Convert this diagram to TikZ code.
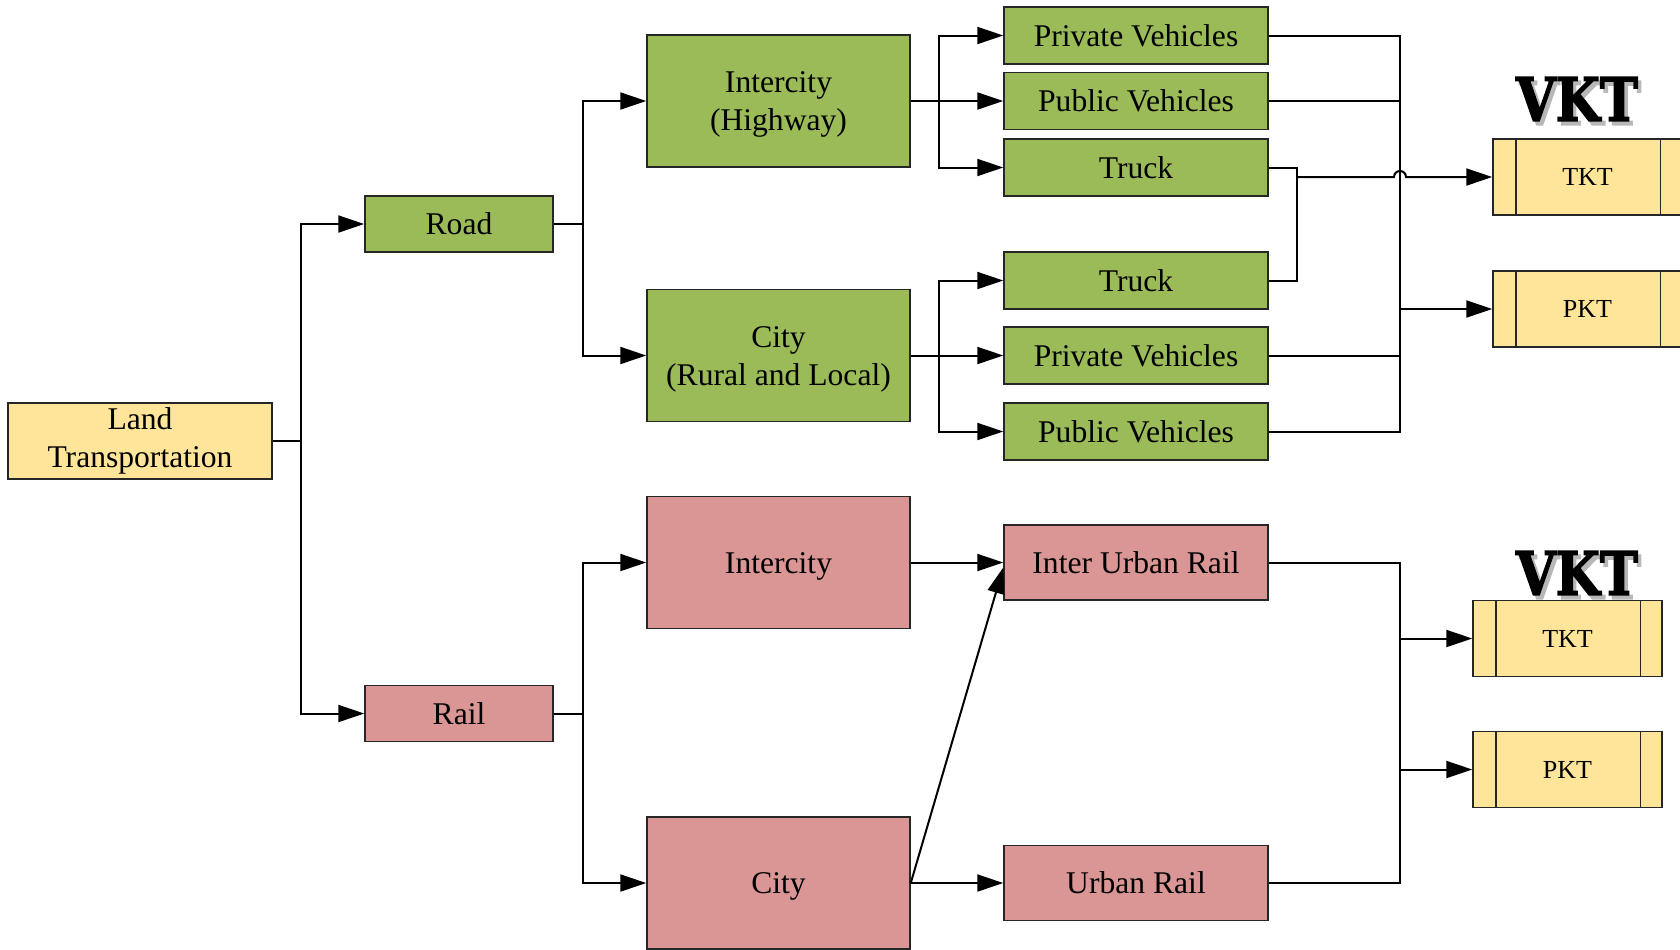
\documentclass[tikz,border=0pt]{standalone}
\usepackage{fontspec}
\setmainfont{Liberation Serif}
\newfontfamily\vktfont[BoldFeatures={FakeBold=2.5}]{DejaVu Serif}
\usetikzlibrary{arrows.meta,calc}
\definecolor{gfill}{HTML}{9BBB59}
\definecolor{rfill}{HTML}{D99694}
\definecolor{yfill}{HTML}{FFE599}
\newcommand{\vktshadow}[1]{\makebox[0pt][l]{\hspace{2pt}\raisebox{-2pt}{\color{black!28}#1}}#1}
\newcommand{\upstrut}{\rule{0pt}{14pt}}
\begin{document}
\begin{tikzpicture}[x=0.5pt,y=-0.5pt,
  base/.style={draw=black!85, line width=0.75pt, inner sep=0pt, align=center, font=\fontsize{15.8}{19}\selectfont},
  gbox/.style={base, fill=gfill},
  rbox/.style={base, fill=rfill},
  ybox/.style={base, fill=yfill},
  small/.style={base, fill=gfill, minimum width=132pt, minimum height=28.5pt},
  mid/.style={minimum width=131.5pt, minimum height=66pt},
  kt/.style={base, fill=yfill, minimum width=94.5pt, minimum height=38pt, font=\fontsize{13}{15}\selectfont},
  conn/.style={line width=1pt},
  arr/.style={conn, -{Triangle[length=13pt,width=8.5pt]}},
  vkt/.style={font=\vktfont\bfseries\fontsize{30}{30}\selectfont, inner sep=0pt},
]
\useasboundingbox (0,0) rectangle (1680,949);

% nodes
\node[ybox, minimum width=132pt, minimum height=38pt] (land) at (140,441) {Land\\Transportation};
\node[gbox, minimum width=94pt, minimum height=28pt] (road) at (459,224) {Road};
\node[rbox, minimum width=94pt, minimum height=28pt] (rail) at (459,713.5) {Rail};
\node[gbox, mid] (ihw) at (778.5,101) {\upstrut Intercity\\(Highway)};
\node[gbox, mid] (city) at (778.5,355.5) {\upstrut City\\(Rural and Local)};
\node[rbox, mid] (irail) at (778.5,562.5) {\upstrut Intercity};
\node[rbox, mid] (crail) at (778.5,883) {\upstrut City};

\node[small] (pv1) at (1136,35.5) {Private Vehicles};
\node[small] (pub1) at (1136,101) {Public Vehicles};
\node[small] (truck1) at (1136,167.5) {Truck};
\node[small] (truck2) at (1136,280.5) {Truck};
\node[small] (pv2) at (1136,355.5) {Private Vehicles};
\node[small] (pub2) at (1136,431.5) {Public Vehicles};
\node[rbox, minimum width=132pt, minimum height=37.5pt] (iur) at (1136,562.5) {Inter Urban Rail};
\node[rbox, minimum width=132pt, minimum height=37.5pt] (ur) at (1136,883) {Urban Rail};

\node[kt] (tkt1) at (1587.5,177) {TKT};
\node[kt] (pkt1) at (1587.5,309) {PKT};
\node[kt] (tkt2) at (1567.5,638.5) {TKT};
\node[kt] (pkt2) at (1567.5,769.5) {PKT};
\foreach \n in {tkt1,pkt1,tkt2,pkt2}{
  \draw[line width=0.75pt, black!85] ([xshift=11.75pt]\n.north west) -- ([xshift=11.75pt]\n.south west)
     ([xshift=-11.25pt]\n.north east) -- ([xshift=-11.25pt]\n.south east);
}

% VKT labels with shadow
\node[vkt, xscale=0.85] (vkt1) at (1577,101) {\vktshadow{VKT}};
\node[vkt, xscale=0.85] (vkt2) at (1577,575) {\vktshadow{VKT}};

% left tree
\draw[arr] (land.east) -- ++(28,0) |- (road.west);
\draw[arr] (land.east) -- ++(28,0) |- (rail.west);
\draw[arr] (road.east) -- ++(29,0) |- (ihw.west);
\draw[arr] (road.east) -- ++(29,0) |- (city.west);
\draw[arr] (rail.east) -- ++(29,0) |- (irail.west);
\draw[arr] (rail.east) -- ++(29,0) |- (crail.west);

% road branches
\draw[arr] (ihw.east) -- (pub1.west);
\draw[arr] (ihw.east) -- ++(28,0) |- (pv1.west);
\draw[arr] (ihw.east) -- ++(28,0) |- (truck1.west);
\draw[arr] (city.east) -- (pv2.west);
\draw[arr] (city.east) -- ++(28,0) |- (truck2.west);
\draw[arr] (city.east) -- ++(28,0) |- (pub2.west);

% rail branches
\draw[arr] (irail.east) -- (iur.west);
\draw[arr] (crail.east) -- (ur.west);
\draw[arr] (crail.east) -- ([yshift=-2.5pt]iur.west);

% right buses (road)
\coordinate (busP) at (1400,309);
\coordinate (jT) at (1296,177);
\draw[conn] (pv1.east) -| (busP);
\draw[conn] (pub1.east) -- (pub1.east -| busP);
\draw[conn] (pub2.east) -| (busP);
\draw[conn] (pv2.east) -- (pv2.east -| busP);
\draw[arr] (busP) -- (pkt1.west);
\draw[conn] (truck1.east) -- ++(28,0) |- (truck2.east);
\draw[arr] (jT) -- ([xshift=-3pt]busP |- jT) arc[start angle=180, end angle=0, radius=3pt] -- (tkt1.west);

% right bus (rail)
\coordinate (busR) at (1400,700);
\draw[conn] (iur.east) -| (busR |- ur.east) -- (ur.east);
\draw[arr] (busR |- tkt2.west) -- (tkt2.west);
\draw[arr] (busR |- pkt2.west) -- (pkt2.west);
\end{tikzpicture}
\end{document}
